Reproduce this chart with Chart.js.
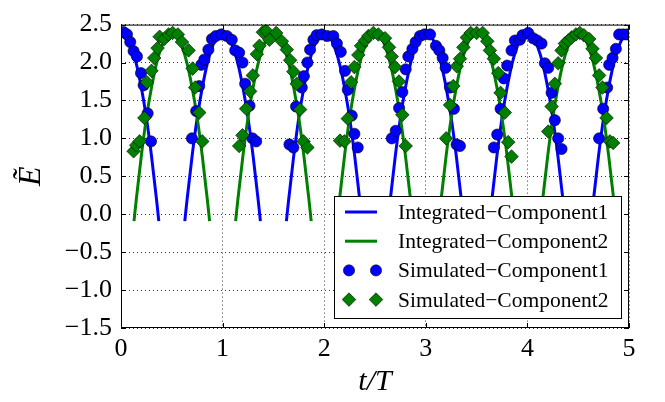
<!DOCTYPE html>
<html>
<head>
<meta charset="utf-8">
<script src="https://cdn.jsdelivr.net/npm/chart.js@4.4.1/dist/chart.umd.min.js"></script>
<style>
  html, body { margin: 0; padding: 0; background: #fff; }
  #box { width: 665px; height: 402px; }
</style>
</head>
<body>
<div id="box"><canvas id="energy" width="665" height="402"></canvas></div>
<script>
// integrated curve: one arc around each peak (offset from peak, value)
const arcDt = [-0.372, -0.35, -0.3, -0.25, -0.2, -0.15, -0.1, -0.05, 0, 0.05, 0.1, 0.15, 0.2, 0.25, 0.3, 0.35, 0.372];
const arcE = [-0.09, 0.19, 0.77, 1.27, 1.67, 1.99, 2.21, 2.35, 2.39, 2.35, 2.21, 1.99, 1.67, 1.27, 0.77, 0.19, -0.09];
const peaks1 = [0, 1, 2, 3, 4, 5];
const peaks2 = [0.5, 1.5, 2.5, 3.5, 4.5];

// simulated points, component 1
const simT1 = [0.026, 0.059, 0.091, 0.124, 0.157, 0.197, 0.223, 0.262, 0.295,
  0.698, 0.74, 0.77, 0.79, 0.82, 0.86, 0.895, 0.934, 0.986,
  1.042, 1.09, 1.124, 1.163, 1.196, 1.222, 1.265, 1.294, 1.33,
  1.658, 1.697, 1.723, 1.779, 1.8, 1.835, 1.861, 1.894, 1.926, 1.976,
  2.03, 2.09, 2.125, 2.163, 2.205, 2.232, 2.271, 2.297, 2.33,
  2.665, 2.704, 2.737, 2.769, 2.802, 2.828, 2.868, 2.9, 2.943, 2.986,
  3.042, 3.1, 3.133, 3.166, 3.195, 3.238, 3.277, 3.303, 3.336,
  3.67, 3.703, 3.736, 3.768, 3.801, 3.844, 3.877, 3.926, 3.952,
  4.008, 4.057, 4.097, 4.139, 4.172, 4.205, 4.238, 4.27, 4.303, 4.336,
  4.706, 4.746, 4.785, 4.805, 4.838, 4.871, 4.903, 4.943, 4.982];
const simE1 = [2.40, 2.37, 2.27, 2.15, 2.08, 1.86, 1.70, 1.33, 0.96,
  1.00, 1.36, 1.69, 1.97, 2.04, 2.17, 2.31, 2.35, 2.37,
  2.35, 2.30, 2.16, 2.13, 2.00, 1.72, 1.43, 1.00, 0.96,
  0.92, 0.88, 1.42, 1.67, 1.82, 2.00, 2.17, 2.30, 2.36, 2.37,
  2.35, 2.35, 2.25, 2.14, 1.89, 1.64, 1.30, 1.06, 0.88,
  1.00, 1.10, 1.40, 1.61, 1.91, 2.08, 2.18, 2.27, 2.35, 2.37,
  2.37, 2.22, 2.16, 2.06, 1.93, 1.67, 1.39, 0.92, 0.90,
  0.88, 1.05, 1.39, 1.79, 1.96, 2.16, 2.29, 2.30, 2.36,
  2.39, 2.32, 2.29, 2.25, 1.99, 1.93, 1.60, 1.24, 1.00, 0.86,
  1.00, 1.39, 1.67, 1.97, 2.06, 2.18, 2.37, 2.37, 2.37];

// simulated points, component 2
const simT2 = [0.124, 0.15, 0.183, 0.23, 0.255, 0.3, 0.327, 0.36, 0.38, 0.426, 0.468, 0.508, 0.56, 0.6, 0.665, 0.705, 0.73, 0.77, 0.8,
  1.163, 1.196, 1.232, 1.271, 1.298, 1.337, 1.363, 1.396, 1.428, 1.461, 1.527, 1.583, 1.632, 1.665, 1.697, 1.73, 1.763, 1.796, 1.835,
  2.156, 2.199, 2.232, 2.265, 2.297, 2.336, 2.363, 2.402, 2.435, 2.484, 2.533, 2.599, 2.638, 2.664, 2.697, 2.736, 2.769, 2.802,
  3.2, 3.239, 3.271, 3.305, 3.337, 3.37, 3.404, 3.442, 3.5, 3.56, 3.605, 3.631, 3.67, 3.713, 3.736, 3.778, 3.811, 3.844,
  4.205, 4.238, 4.27, 4.303, 4.336, 4.369, 4.402, 4.435, 4.477, 4.516, 4.556, 4.608, 4.641, 4.674, 4.706, 4.739, 4.779, 4.812, 4.844];
const simE2 = [0.83, 0.91, 0.96, 1.27, 1.74, 1.89, 2.06, 2.19, 2.34, 2.31, 2.37, 2.39, 2.37, 2.27, 2.16, 1.92, 1.67, 1.34, 0.96,
  0.90, 1.04, 1.39, 1.62, 1.83, 2.11, 2.22, 2.40, 2.42, 2.30, 2.39, 2.28, 2.17, 2.03, 1.88, 1.72, 1.38, 0.96, 0.88,
  0.97, 0.96, 1.26, 1.74, 1.94, 2.10, 2.22, 2.29, 2.35, 2.39, 2.37, 2.32, 2.20, 2.08, 1.94, 1.75, 1.31, 0.90,
  1.00, 1.44, 1.69, 1.95, 2.05, 2.20, 2.33, 2.39, 2.39, 2.39, 2.28, 2.16, 2.05, 1.86, 1.60, 1.34, 0.95, 0.76,
  1.09, 1.42, 1.72, 1.99, 2.16, 2.25, 2.29, 2.33, 2.37, 2.39, 2.36, 2.31, 2.18, 2.06, 1.83, 1.67, 1.27, 0.96, 0.94];

const xTicks = [0, 1, 2, 3, 4, 5];
const yMin = -1.5, yMax = 2.5, yStep = 0.5;

const BLUE = '#0000ff';
const GREEN = '#008000';
const SERIF = '"Liberation Serif", "DejaVu Serif", serif';

// one arc per peak, null in between so the line breaks
function arcs(peaks) {
  const pts = [];
  peaks.forEach(p => {
    arcDt.forEach((d, i) => {
      const t = p + d;
      if (t >= 0 && t <= 5) pts.push({ x: t, y: arcE[i] });
    });
    pts.push({ x: p + 0.5, y: null });
  });
  return pts;
}

function points(ts, es) {
  return ts.map((t, i) => ({ x: t, y: es[i] }));
}

// frame, inward ticks and the legend box
const decor = {
  id: 'decor',
  afterDatasetsDraw(chart) {
    const { ctx, chartArea: a, scales } = chart;
    ctx.save();
    ctx.strokeStyle = '#000';
    ctx.lineWidth = 1;
    ctx.setLineDash([]);
    ctx.strokeRect(a.left + 0.5, a.top + 0.5, a.right - a.left - 1, a.bottom - a.top - 1);

    const len = 5;
    ctx.beginPath();
    scales.x.ticks.forEach(tk => {
      const px = Math.round(scales.x.getPixelForValue(tk.value)) + 0.5;
      ctx.moveTo(px, a.bottom); ctx.lineTo(px, a.bottom - len);
      ctx.moveTo(px, a.top); ctx.lineTo(px, a.top + len);
    });
    scales.y.ticks.forEach(tk => {
      const py = Math.round(scales.y.getPixelForValue(tk.value)) + 0.5;
      ctx.moveTo(a.left, py); ctx.lineTo(a.left + len, py);
      ctx.moveTo(a.right, py); ctx.lineTo(a.right - len, py);
    });
    ctx.stroke();

    // legend
    const lx = 334, ly = 196, lw = 287, lh = 122;
    ctx.fillStyle = '#fff';
    ctx.fillRect(lx, ly, lw, lh);
    ctx.strokeRect(lx + 0.5, ly + 0.5, lw, lh);

    ctx.font = '21.5px ' + SERIF;
    ctx.textBaseline = 'alphabetic';
    ctx.textAlign = 'left';
    chart.data.datasets.forEach((ds, i) => {
      const cy = 212 + i * 29.2;
      if (ds.showLine) {
        ctx.strokeStyle = ds.borderColor;
        ctx.lineWidth = ds.borderWidth;
        ctx.beginPath();
        ctx.moveTo(345, cy); ctx.lineTo(377, cy);
        ctx.stroke();
      } else {
        [349, 376].forEach(mx => {
          const r = ds.pointRadius;
          ctx.beginPath();
          if (ds.pointStyle === 'rectRot') {
            ctx.moveTo(mx - r, cy); ctx.lineTo(mx, cy - r);
            ctx.lineTo(mx + r, cy); ctx.lineTo(mx, cy + r);
            ctx.closePath();
          } else {
            ctx.arc(mx, cy, r, 0, Math.PI * 2);
          }
          ctx.fillStyle = ds.backgroundColor;
          ctx.fill();
          ctx.strokeStyle = '#000';
          ctx.lineWidth = ds.borderWidth;
          ctx.stroke();
        });
      }
      ctx.fillStyle = '#000';
      ctx.fillText(ds.label, 398, cy + 7);
    });
    ctx.restore();
  }
};

new Chart(document.getElementById('energy'), {
  type: 'scatter',
  data: {
    datasets: [
      {
        label: 'Integrated\u2212Component1',
        data: arcs(peaks1),
        showLine: true,
        borderColor: BLUE,
        borderWidth: 3,
        pointRadius: 0,
        cubicInterpolationMode: 'monotone',
        spanGaps: false,
        order: 4
      },
      {
        label: 'Integrated\u2212Component2',
        data: arcs(peaks2),
        showLine: true,
        borderColor: GREEN,
        borderWidth: 3,
        pointRadius: 0,
        cubicInterpolationMode: 'monotone',
        spanGaps: false,
        order: 3
      },
      {
        label: 'Simulated\u2212Component1',
        data: points(simT1, simE1),
        showLine: false,
        pointStyle: 'circle',
        pointRadius: 5.6,
        backgroundColor: BLUE,
        borderColor: '#000',
        borderWidth: 0.6,
        order: 2
      },
      {
        label: 'Simulated\u2212Component2',
        data: points(simT2, simE2),
        showLine: false,
        pointStyle: 'rectRot',
        pointRadius: 6.8,
        backgroundColor: GREEN,
        borderColor: '#000',
        borderWidth: 0.6,
        order: 1
      }
    ]
  },
  options: {
    responsive: false,
    animation: false,
    events: [],
    layout: { padding: { top: 16, right: 36, left: 0, bottom: 0 } },
    plugins: { legend: { display: false }, tooltip: { enabled: false } },
    scales: {
      x: {
        type: 'linear',
        min: 0,
        max: 5,
        afterBuildTicks: s => { s.ticks = xTicks.map(v => ({ value: v })); },
        afterFit: s => { s.height = 74; },
        grid: { color: '#000', lineWidth: 0.8, drawTicks: false },
        border: { display: false, dash: [1, 3] },
        ticks: {
          color: '#000',
          padding: 6,
          font: { family: SERIF, size: 26 },
          maxRotation: 0,
          callback: v => String(v)
        },
        title: {
          display: true,
          text: 't/T',
          color: '#000',
          font: { family: SERIF, size: 30, style: 'italic' },
          padding: { top: 0, bottom: 2 }
        }
      },
      y: {
        min: yMin,
        max: yMax,
        ticks: {
          stepSize: yStep,
          color: '#000',
          padding: 9,
          font: { family: SERIF, size: 26 },
          callback: v => (Math.abs(v) < 1e-9 ? 0 : v).toFixed(1).replace('-', '\u2212')
        },
        afterFit: s => { s.width = 121; },
        grid: { color: '#000', lineWidth: 0.8, drawTicks: false },
        border: { display: false, dash: [1, 3] },
        title: {
          display: true,
          text: '\u1EBC',
          color: '#000',
          font: { family: SERIF, size: 32, style: 'italic' },
          padding: { top: 12, bottom: 0 }
        }
      }
    }
  },
  plugins: [decor]
});
</script>
</body>
</html>
